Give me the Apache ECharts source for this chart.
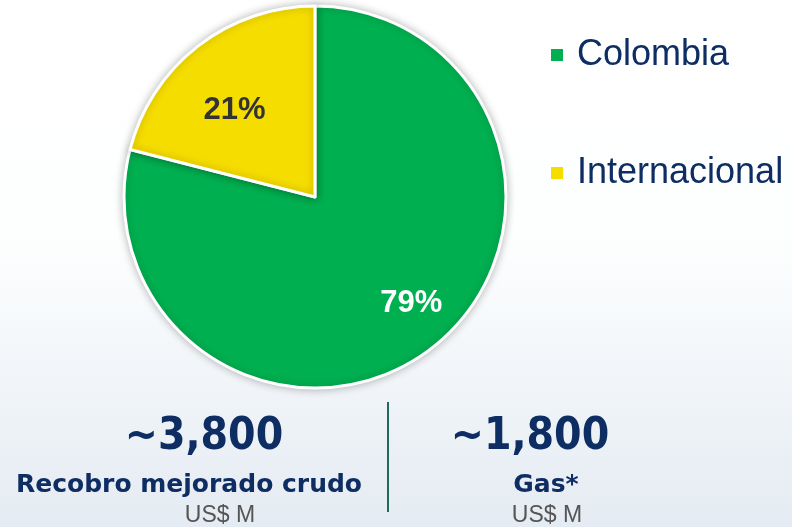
<!DOCTYPE html>
<html>
<head>
<meta charset="utf-8">
<script src="https://cdn.jsdelivr.net/npm/echarts@6/dist/echarts.min.js"></script>
<style>
  html, body { margin: 0; padding: 0; }
  #main { width: 792px; height: 527px; }
</style>
</head>
<body>
<div id="main"></div>
<script>
// pie data
var regions = ["Colombia", "Internacional"];
var shares = [79, 21];

// figures below the pie
var amounts = ["~3,800", "~1,800"];
var captions = ["Recobro mejorado crudo", "Gas*"];
var units = ["US$ M", "US$ M"];

var sliceColors = ["#00B050", "#F6DD00"];
var labelColors = ["#ffffff", "#333333"];
var labelOffsets = [[36, 29], [-20, -9]];
var navy = "#0E2D63";

var myChart = echarts.init(document.getElementById("main"));

var pieData = regions.map(function (name, i) {
  return {
    name: name,
    value: shares[i],
    itemStyle: { color: sliceColors[i] },
    label: { color: labelColors[i], offset: labelOffsets[i] },
  };
});

// x centres of the three text lines, per column (title padding eats 5px)
var amountX = [199, 525];
var captionX = [184, 541];
var unitX = [215, 542];
var titles = [];
amounts.forEach(function (a, i) {
  titles.push({
    text: a,
    left: amountX[i],
    top: 411,
    textAlign: "center",
    textStyle: {
      color: navy,
      fontSize: 44,
      fontWeight: 900,
      fontFamily: "DejaVu Sans Condensed, DejaVu Sans",
    },
  });
  titles.push({
    text: captions[i],
    left: captionX[i],
    top: 468,
    textAlign: "center",
    textStyle: {
      color: navy,
      fontSize: 25,
      fontWeight: "bold",
      fontFamily: "DejaVu Sans",
    },
  });
  titles.push({
    text: units[i],
    left: unitX[i],
    top: 499,
    textAlign: "center",
    textStyle: {
      color: "#555555",
      fontSize: 23,
      fontWeight: "normal",
      fontFamily: "Liberation Sans, Arial",
    },
  });
});

myChart.setOption({
  backgroundColor: {
    type: "linear",
    x: 0, y: 0, x2: 0, y2: 1,
    colorStops: [
      { offset: 0, color: "#ffffff" },
      { offset: 0.45, color: "#fdfefe" },
      { offset: 0.75, color: "#f0f4f8" },
      { offset: 1, color: "#e4ebf2" },
    ],
  },
  animation: false,
  title: titles,
  legend: {
    orient: "vertical",
    left: 544,
    top: 32,
    itemWidth: 14,
    itemHeight: 14,
    itemGap: 82,
    icon: "rect",
    data: regions,
    textStyle: {
      color: navy,
      fontSize: 36,
      fontFamily: "Liberation Sans, Arial",
      padding: [0, 0, 0, 8],
    },
  },
  series: [
    {
      type: "pie",
      center: [315, 197],
      radius: 191,
      startAngle: 90,
      clockwise: true,
      data: pieData,
      itemStyle: {
        borderColor: "#ffffff",
        borderWidth: 3,
        shadowBlur: 8,
        shadowColor: "rgba(0,0,0,0.25)",
      },
      label: {
        show: true,
        position: "inside",
        formatter: "{c}%",
        fontSize: 31,
        fontWeight: "bold",
        fontFamily: "Liberation Sans, Arial",
      },
      labelLine: { show: false },
      emphasis: { disabled: true },
    },
  ],
  graphic: [
    {
      type: "line",
      shape: { x1: 388, y1: 402, x2: 388, y2: 512 },
      style: { stroke: "#1E6B5A", lineWidth: 2 },
    },
  ],
});
</script>
</body>
</html>
